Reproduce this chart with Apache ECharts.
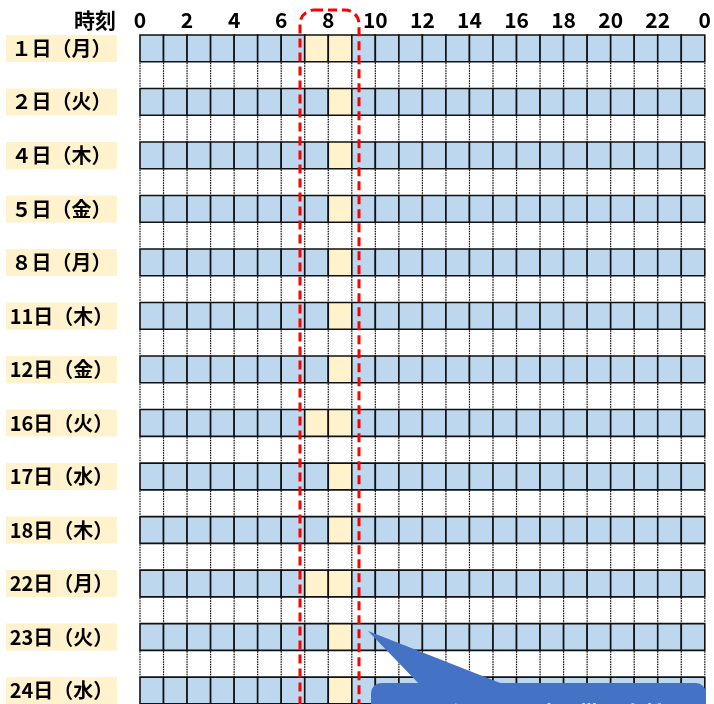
<!DOCTYPE html>
<html>
<head>
<meta charset="utf-8">
<script src="https://cdn.jsdelivr.net/npm/echarts@6/dist/echarts.min.js"></script>
<style>
  html, body { margin: 0; padding: 0; background: #fff; }
  #chart { width: 714px; height: 704px; }
</style>
</head>
<body>
<div id="chart"></div>
<script>
// 日付ラベル（1桁は全角数字）
const days = ['１日（月）', '２日（火）', '４日（木）', '５日（金）', '８日（月）', '11日（木）', '12日（金）',
  '16日（火）', '17日（水）', '18日（木）', '22日（月）', '23日（火）', '24日（水）']
// 勤務した時間帯（黄色のセル）
const coreHours = [[7, 8], [8], [8], [8], [8], [8], [8], [7, 8], [8], [8], [7, 8], [8], [8]]
const hourCount = 24
const calloutText = 'コアタイムの時間帯は出社'

// 各日付は「色付きの行」＋「点線の行」の2行（最後の点線行は画面外）
const rows = days.flatMap((d, i) => [d, 'gap' + i]).slice(0, days.length * 2 - 1)

const cells = []
const dots = []
days.forEach((d, i) => {
  for (let h = 0; h < hourCount; h++) {
    cells.push([h, i * 2, coreHours[i].includes(h) ? 1 : 0])
  }
  if (i * 2 + 1 < rows.length) {
    for (let h = 0; h <= hourCount; h++) {
      dots.push([h, i * 2 + 1])
    }
  }
})

const FONT = '"Noto Sans CJK JP", "Noto Sans", sans-serif'

const chart = echarts.init(document.getElementById('chart'))
chart.setOption({
  animation: false,
  grid: { left: 140, right: 2.4, top: 35, bottom: 0 },
  xAxis: {
    type: 'value',
    position: 'top',
    min: 0,
    max: hourCount,
    interval: 2,
    axisLine: { show: false },
    axisTick: { show: false },
    splitLine: { show: false },
    axisLabel: {
      margin: 4,
      showMaxLabel: true,
      fontSize: 21,
      fontWeight: 'bold',
      fontFamily: FONT,
      color: '#000',
      formatter: (v) => String(v % 24),
    },
  },
  yAxis: {
    type: 'category',
    inverse: true,
    data: rows,
    axisLine: { show: false },
    axisTick: { show: false },
    splitLine: { show: false },
    axisLabel: {
      interval: 0,
      margin: 23,
      formatter: (v, idx) => (idx % 2 === 0 ? '{a|' + v + '}' : ''),
      rich: {
        a: {
          width: 111,
          height: 27,
          lineHeight: 27,
          align: 'center',
          backgroundColor: '#FFF2CC',
          fontSize: 20,
          fontWeight: 'bold',
          fontFamily: FONT,
          color: '#000',
        },
      },
    },
  },
  series: [
    {
      type: 'custom',
      data: cells,
      clip: false,
      renderItem(params, api) {
        const h = api.value(0)
        const r = api.value(1)
        const p0 = api.coord([h, r])
        const p1 = api.coord([h + 1, r])
        const bh = api.size([0, 1])[1]
        return {
          type: 'rect',
          shape: { x: p0[0], y: p0[1] - bh / 2, width: p1[0] - p0[0], height: bh },
          style: { fill: api.value(2) ? '#FFF2CC' : '#BDD7EE', stroke: '#111', lineWidth: 1.6 },
        }
      },
    },
    {
      type: 'custom',
      data: dots,
      clip: false,
      renderItem(params, api) {
        const p = api.coord([api.value(0), api.value(1)])
        const bh = api.size([0, 1])[1]
        return {
          type: 'line',
          shape: { x1: p[0], y1: p[1] - bh / 2 + 1, x2: p[0], y2: p[1] + bh / 2 - 1 },
          style: { stroke: '#000', lineWidth: 1.2, lineDash: [1.5, 1] },
        }
      },
    },
  ],
  graphic: [
    {
      type: 'text',
      z: 100,
      style: {
        x: 116, y: 20, text: '時刻', align: 'right', verticalAlign: 'middle',
        font: 'bold 21px ' + FONT, fill: '#000',
      },
    },
    {
      type: 'rect',
      z: 100,
      shape: { x: 300, y: 10, width: 59, height: 760, r: 14 },
      style: { fill: 'none', stroke: '#FF0000', lineWidth: 3, lineDash: [9, 5] },
    },
    {
      type: 'polygon',
      z: 101,
      shape: { points: [[368, 631], [423, 688], [513, 688]] },
      style: { fill: '#4472C4' },
    },
    {
      type: 'rect',
      z: 101,
      shape: { x: 371, y: 683, width: 335, height: 60, r: 10 },
      style: { fill: '#4472C4' },
    },
    {
      type: 'text',
      z: 102,
      style: {
        x: 402, y: 714, text: calloutText, align: 'left', verticalAlign: 'middle',
        font: 'bold 22px ' + FONT, fill: '#fff',
      },
    },
  ],
})
</script>
</body>
</html>
